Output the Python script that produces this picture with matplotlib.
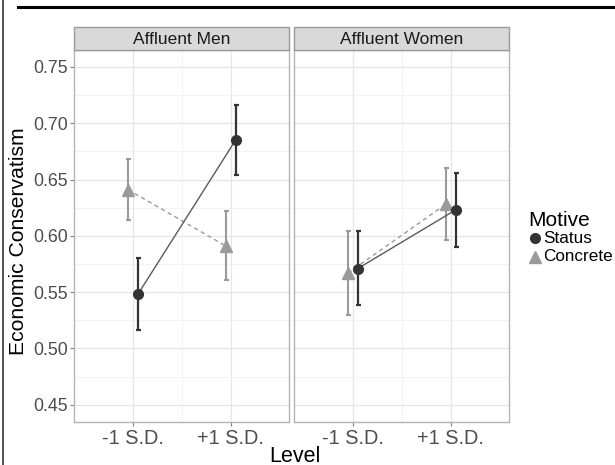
import numpy as np
import matplotlib
matplotlib.use('Agg')
import matplotlib.pyplot as plt
from matplotlib.lines import Line2D
from matplotlib.patches import Rectangle

plt.rcParams['font.family'] = ['Liberation Sans', 'DejaVu Sans']

# data
levels = ['-1 S.D.', '+1 S.D.']
panels = ['Affluent Men', 'Affluent Women']
motives = ['Status', 'Concrete']

men_status = [0.548, 0.685]
men_status_lo = [0.516, 0.654]
men_status_hi = [0.580, 0.716]
men_concrete = [0.641, 0.591]
men_concrete_lo = [0.614, 0.561]
men_concrete_hi = [0.668, 0.622]

women_status = [0.571, 0.623]
women_status_lo = [0.539, 0.590]
women_status_hi = [0.604, 0.656]
women_concrete = [0.567, 0.628]
women_concrete_lo = [0.530, 0.596]
women_concrete_hi = [0.604, 0.660]

yticks = [0.45, 0.50, 0.55, 0.60, 0.65, 0.70, 0.75]

status_col = '#333333'
concrete_col = '#9a9a9a'

W, H = 615, 465
fig = plt.figure(figsize=(6.15, 4.65), dpi=100)

def fx(px):
    return px / W

def fy(px):
    return 1 - px / H

# page border lines around the chart (part of the screenshot)
fig.add_artist(Line2D([fx(18), 1], [fy(7.3), fy(7.3)], color='black', lw=2.2))
fig.add_artist(Line2D([fx(3), fx(3)], [0, 1], color='#333333', lw=1.2))

panel_x = [(74.3, 289.3), (294.3, 509.3)]
top, bottom = 50, 421.7
strip_top = 27

data = [
    (men_status, men_status_lo, men_status_hi, men_concrete, men_concrete_lo, men_concrete_hi),
    (women_status, women_status_lo, women_status_hi, women_concrete, women_concrete_lo, women_concrete_hi),
]

x = np.array([1, 2])
dodge = 0.05

for i, (name, (x0, x1)) in enumerate(zip(panels, panel_x)):
    ax = fig.add_axes([fx(x0), fy(bottom), fx(x1 - x0), (bottom - top) / H])
    st, st_lo, st_hi, co, co_lo, co_hi = data[i]
    st = np.array(st); co = np.array(co)

    # concrete first, status on top
    ax.plot(x - dodge, co, color=concrete_col, lw=1.0, ls=(0, (3, 2.5)), zorder=3)
    ax.errorbar(x - dodge, co, yerr=[co - np.array(co_lo), np.array(co_hi) - co],
                fmt='none', ecolor=concrete_col, elinewidth=1.5, capsize=1.8, capthick=1.5, zorder=3)
    ax.plot(x - dodge, co, ls='none', marker='^', ms=8, color=concrete_col, zorder=4)

    ax.plot(x + dodge, st, color='#5a5a5a', lw=1.0, zorder=5)
    ax.errorbar(x + dodge, st, yerr=[st - np.array(st_lo), np.array(st_hi) - st],
                fmt='none', ecolor=status_col, elinewidth=1.6, capsize=1.8, capthick=1.6, zorder=5)
    ax.plot(x + dodge, st, ls='none', marker='o', ms=7, color=status_col, zorder=6)

    ax.set_xlim(0.4, 2.6)
    ax.set_ylim(0.435, 0.765)
    ax.set_xticks(x)
    ax.set_xticklabels(levels)
    ax.set_yticks(yticks)
    ax.set_yticks(np.array(yticks[:-1]) + 0.025, minor=True)
    ax.set_xticks([1.5], minor=True)
    ax.grid(which='major', color='#e6e6e6', lw=0.9)
    ax.grid(which='minor', color='#f0f0f0', lw=0.6)
    ax.tick_params(which='minor', length=0)
    ax.set_axisbelow(True)
    for s in ax.spines.values():
        s.set_color('#b3b3b3')
        s.set_linewidth(1.0)
    ax.tick_params(axis='x', which='major', color='#7f7f7f', length=3, width=0.8,
                   labelsize=14.3, labelcolor='#4d4d4d', pad=2)
    ax.tick_params(axis='y', which='major', color='#7f7f7f', length=3, width=0.8,
                   labelsize=12.8, labelcolor='#4d4d4d', pad=1.5)
    if i == 0:
        ax.yaxis.set_major_formatter(matplotlib.ticker.FormatStrFormatter('%.2f'))
    else:
        ax.tick_params(axis='y', length=0, labelleft=False)

    # facet strip
    fig.add_artist(Rectangle((fx(x0), fy(top)), fx(x1 - x0), (top - strip_top) / H,
                             facecolor='#d9d9d9', edgecolor='#9a9a9a', lw=1.0))
    fig.text(fx((x0 + x1) / 2), fy((top + strip_top) / 2 + 1), name, ha='center', va='center',
             fontsize=12.5, color='#1a1a1a')

fig.text(fx(19), fy(241), 'Economic Conservatism', rotation=90, ha='center', va='center',
         fontsize=15.2, color='black')
fig.text(fx(295), fy(456), 'Level', ha='center', va='center', fontsize=15.5, color='black')

# legend, placed by hand
fig.text(fx(528), fy(220), 'Motive', ha='left', va='center', fontsize=15, color='black')
legend_y = [238, 256.5]
legend_mk = [('o', 7, status_col), ('^', 8, concrete_col)]
for lab, ly, (mk, ms, col) in zip(motives, legend_y, legend_mk):
    fig.add_artist(Line2D([fx(535)], [fy(ly)], ls='none', marker=mk, ms=ms, color=col))
    fig.text(fx(543), fy(ly), lab, ha='left', va='center', fontsize=12.3, color='black')

fig.savefig('out.png', dpi=100)
